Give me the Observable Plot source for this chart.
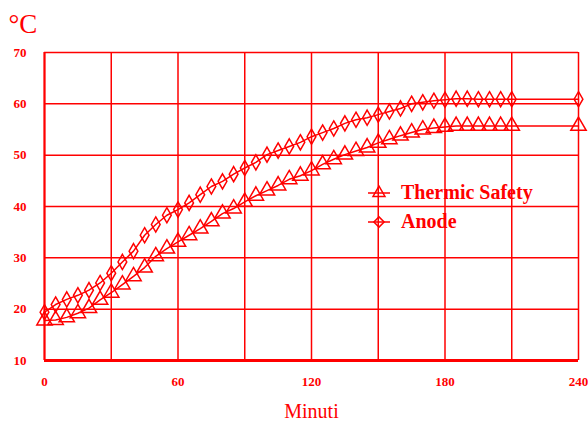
<!DOCTYPE html>
<html><head><meta charset="utf-8">
<script src="https://cdn.jsdelivr.net/npm/d3@7"></script>
<script src="https://cdn.jsdelivr.net/npm/@observablehq/plot@0.6"></script>
<style>
body{margin:0;background:#fff}
#chart{position:relative;width:588px;height:421px;font-family:"Liberation Serif",serif;color:red}
#legend{position:absolute;left:364px;top:178px}
.lg{display:flex;align-items:center;height:29px;font-weight:bold;font-size:20px;color:red}
.lg svg{margin-right:7px}
</style>
</head><body><div id="chart"></div>
<script>
const minutes = [0,5,10,15,20,25,30,35,40,45,50,55,60,65,70,75,80,85,90,95,100,105,110,115,120,125,130,135,140,145,150,155,160,165,170,175,180,185,190,195,200,205,210,240];
const thermic = [17.8,17.9,18.4,19.2,20.2,21.8,23.2,24.8,26.4,28.1,30.3,31.8,33.1,34.4,35.7,37.1,38.6,39.6,40.9,42.1,43.1,44.1,45.3,46.0,47.0,48.2,49.2,50.1,50.8,51.5,52.4,53.1,53.8,54.4,55.0,55.3,55.5,55.7,55.7,55.7,55.7,55.7,55.7,55.7];
const anode = [19.4,20.9,21.9,22.7,23.7,25.1,27.0,29.2,31.3,34.4,36.5,38.3,39.4,40.7,42.3,43.9,44.9,46.3,47.5,48.6,50.1,50.9,51.7,52.5,53.6,54.4,55.2,56.2,56.9,57.3,57.9,58.5,59.1,60.0,60.3,60.6,60.8,61.0,61.0,60.9,60.9,60.9,60.9,60.9];
const seriesNames = ["Thermic Safety","Anode"];
const seriesSymbols = ["triangle","diamond"];
const xTicks = [0,60,120,180,240];
const xGrid = [0,30,60,90,120,150,180,210,240];
const yTicks = [10,20,30,40,50,60,70];
const yUnit = "°C";
const xLabel = "Minuti";

const rows = [];
[thermic, anode].forEach((vals, s) => vals.forEach((v, i) => rows.push({t: minutes[i], v, s: seriesNames[s]})));

const red = "#ff0000";
const symR = [5.7, 4.6];
const chart = Plot.plot({
  width: 588, height: 421,
  marginLeft: 44, marginRight: 10, marginTop: 52, marginBottom: 61,
  style: {fontFamily: "Liberation Serif, serif", background: "#fff", overflow: "visible"},
  x: {domain: [0, 240]},
  y: {domain: [10, 70]},
  symbol: {domain: seriesNames, range: seriesSymbols},
  marks: [
    Plot.ruleX(xGrid, {stroke: red, strokeWidth: 1.5}),
    Plot.ruleY(yTicks, {stroke: red, strokeWidth: 1.5}),
    Plot.ruleX([0], {stroke: red, strokeWidth: 2}),
    Plot.ruleY([10], {stroke: red, strokeWidth: 3}),
    Plot.axisX(xTicks, {tickSize: 0, tickPadding: 16, fontSize: 13, fontWeight: "bold", color: red, label: null}),
    Plot.axisY(yTicks, {tickSize: 0, tickPadding: 18, fontSize: 13, fontWeight: "bold", color: red, label: null}),
    Plot.line(rows, {x: "t", y: "v", z: "s", stroke: red, strokeWidth: 1.5}),
    ...seriesNames.map((name, i) => Plot.dot(rows, {filter: d => d.s === name, x: "t", y: "v", symbol: "s", stroke: red, strokeWidth: 1.5, fill: "none", r: symR[i]})),
    Plot.text([yUnit], {frameAnchor: "top-left", dx: -36, dy: -20, text: d => d, fontSize: 27, fill: red, textAnchor: "start", lineAnchor: "bottom"}),
    Plot.text([xLabel], {frameAnchor: "bottom", dy: 57, text: d => d, fontSize: 20, fill: red, lineAnchor: "bottom"})
  ]
});
const host = document.getElementById("chart");
host.appendChild(chart);

const legend = document.createElement("div");
legend.id = "legend";
seriesNames.forEach((name, i) => {
  const row = document.createElement("div");
  row.className = "lg";
  const sym = d3.symbol(seriesSymbols[i] === "triangle" ? d3.symbolTriangle2 : d3.symbolDiamond2, Math.PI * symR[i] * symR[i])();
  row.innerHTML = `<svg width="30" height="16" viewBox="-15 -8 30 16"><line x1="-11" x2="11" stroke="${red}" stroke-width="1.5"/><path d="${sym}" fill="none" stroke="${red}" stroke-width="1.5"/></svg><span>${name}</span>`;
  legend.appendChild(row);
});
host.appendChild(legend);
</script>
</body></html>
